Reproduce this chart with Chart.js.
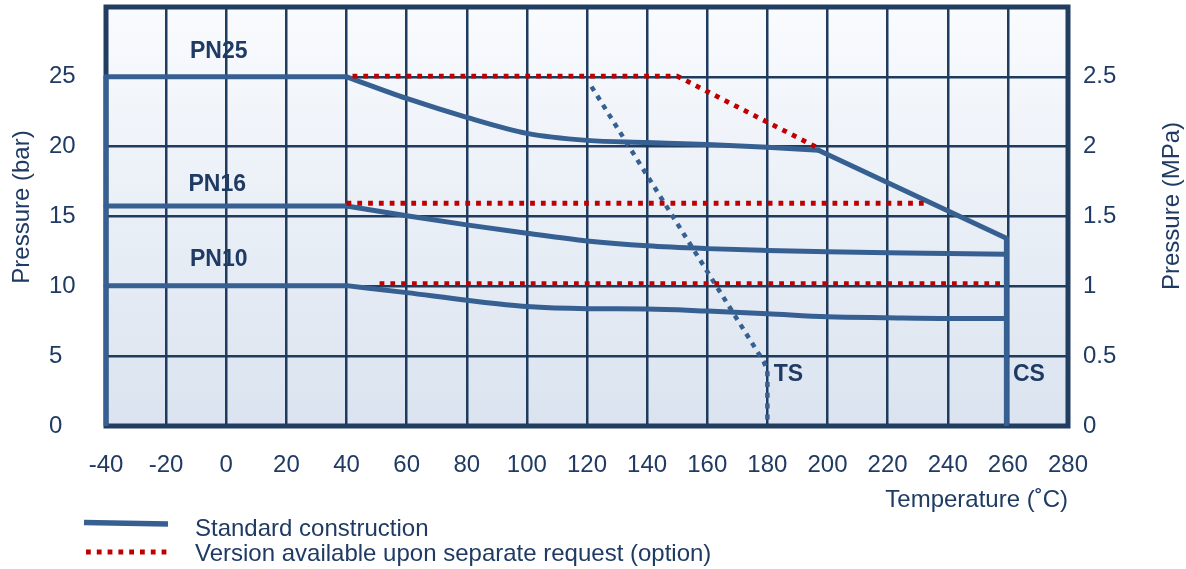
<!DOCTYPE html>
<html>
<head>
<meta charset="utf-8">
<script src="https://cdn.jsdelivr.net/npm/chart.js@4.4.1/dist/chart.umd.min.js"></script>
<style>
html,body{margin:0;padding:0;background:#ffffff;}
#wrap{width:1186px;height:569px;position:relative;}
canvas{display:block;}
</style>
</head>
<body>
<div id="wrap"><canvas id="c" width="1186" height="569"></canvas></div>
<script>
// ---- tick labels ----
const tempTicks = [-40,-20,0,20,40,60,80,100,120,140,160,180,200,220,240,260,280];
const barTicks  = [0,5,10,15,20,25];
const mpaTicks  = [0,0.5,1,1.5,2,2.5];

// ---- standard construction (pressure in bar vs temperature in °C) ----
const pn25Temp = [-40, 40, 60, 80, 100, 120, 140, 160, 180, 197, 259.5];
const pn25Bar  = [25, 25, 23.45, 22.1, 20.95, 20.45, 20.3, 20.15, 19.95, 19.75, 13.45];
const pn25Kinks = [1, 9];
const pn16Temp = [-40, 40, 60, 80, 100, 120, 140, 160, 180, 200, 220, 240, 259.5];
const pn16Bar  = [15.75, 15.75, 15.05, 14.4, 13.8, 13.25, 12.9, 12.7, 12.57, 12.47, 12.4, 12.35, 12.3];
const pn16Kinks = [1];
const pn10Temp = [-40, 40, 60, 80, 100, 120, 140, 160, 180, 200, 220, 240, 259.5];
const pn10Bar  = [10.05, 10.05, 9.55, 9.0, 8.55, 8.4, 8.38, 8.23, 8.04, 7.82, 7.75, 7.7, 7.7];
const pn10Kinks = [1];
const leftEdgeTemp = [-40, -40];
const leftEdgeBar  = [0, 25];
const csTemp = [259.5, 259.5];
const csBar  = [13.45, 0];

// ---- option (available upon separate request) ----
const pn25OptTemp = [42, 150, 196];
const pn25OptBar  = [25.05, 25.05, 20.0];
const pn16OptTemp = [40, 233];
const pn16OptBar  = [15.95, 15.95];
const pn10OptTemp = [51, 258];
const pn10OptBar  = [10.2, 10.2];

// ---- TS limit ----
const tsTemp = [121.5, 178.8, 180, 180];
const tsBar  = [24.3, 4.6, 4.0, 0.3];

// ---- text labels inside the plot (anchored in data units) ----
const noteText = ['PN25', 'PN16', 'PN10', 'TS', 'CS'];
const noteTemp = [-2.5, -3, -2.5, 187, 267];
const noteBar  = [26.8, 17.3, 11.9, 3.7, 3.7];

const legendLabels = ['Standard construction', 'Version available upon separate request (option)'];
const axisTitles = ['Temperature (˚C)', 'Pressure (bar)', 'Pressure (MPa)'];

const FONT = "'Liberation Sans', Arial, Helvetica, sans-serif";
const TXT = '#1f3b63';
const GRID = '#1f3b5e';
const FRAME = '#213d60';
const BLUE = '#376092';
const RED = '#c00000';
const FS = 24;

function pts(T, P) { return T.map((t, i) => ({x: t, y: P[i]})); }

function stdDatasets(label, T, P, kinks) {
  const cuts = [0, ...kinks, T.length - 1];
  const out = [];
  for (let k = 0; k < cuts.length - 1; k++) {
    const a = cuts[k], b = cuts[k + 1];
    out.push({
      label: label,
      data: pts(T.slice(a, b + 1), P.slice(a, b + 1)),
      borderColor: BLUE, borderWidth: 5,
      cubicInterpolationMode: (b - a > 1) ? 'monotone' : 'default',
      tension: 0, pointRadius: 0, borderCapStyle: 'round', borderJoinStyle: 'round',
      clip: 10, yAxisID: 'y'
    });
  }
  return out;
}
function straight(label, T, P, color, width, dash, cap) {
  return {
    label: label, data: pts(T, P), borderColor: color, borderWidth: width,
    borderDash: dash || [], tension: 0, pointRadius: 0,
    borderCapStyle: cap || 'butt', borderJoinStyle: 'miter', clip: 10, yAxisID: 'y'
  };
}

const datasets = [
  straight('Standard', leftEdgeTemp, leftEdgeBar, BLUE, 5, null, 'butt'),
  straight('Standard', csTemp, csBar, BLUE, 5, null, 'butt'),
  straight('Option PN25', pn25OptTemp, pn25OptBar, RED, 4.8, [4.8, 6]),
  straight('Option PN16', pn16OptTemp, pn16OptBar, RED, 4.8, [4.8, 6]),
  straight('Option PN10', pn10OptTemp, pn10OptBar, RED, 4.8, [4.8, 6]),
  ...stdDatasets('PN25', pn25Temp, pn25Bar, pn25Kinks),
  ...stdDatasets('PN16', pn16Temp, pn16Bar, pn16Kinks),
  ...stdDatasets('PN10', pn10Temp, pn10Bar, pn10Kinks),
  straight('TS', tsTemp, tsBar, BLUE, 4.5, [5, 5.8])
];

const decor = {
  id: 'decor',
  beforeDraw(chart) {
    const {ctx, chartArea: a} = chart;
    const g = ctx.createLinearGradient(0, a.top, 0, a.bottom);
    g.addColorStop(0, '#f9fbfe');
    g.addColorStop(1, '#dae3ef');
    ctx.save();
    ctx.fillStyle = g;
    ctx.fillRect(a.left, a.top, a.right - a.left, a.bottom - a.top);
    ctx.restore();
  },
  beforeDatasetsDraw(chart) {
    const {ctx, chartArea: a} = chart;
    ctx.save();
    ctx.strokeStyle = FRAME;
    ctx.lineWidth = 5;
    ctx.strokeRect(a.left, a.top, a.right - a.left, a.bottom - a.top);
    ctx.restore();
  },
  afterDatasetsDraw(chart) {
    const {ctx} = chart;
    const xs = chart.scales.x, ys = chart.scales.y;
    ctx.save();
    ctx.fillStyle = TXT;
    ctx.font = 'bold 23px ' + FONT;
    ctx.textAlign = 'center';
    ctx.textBaseline = 'middle';
    noteText.forEach((t, i) => {
      ctx.fillText(t, xs.getPixelForValue(noteTemp[i]), ys.getPixelForValue(noteBar[i]));
    });
    ctx.restore();
  },
  afterDraw(chart) {
    const {ctx} = chart;
    ctx.save();
    ctx.fillStyle = TXT;
    ctx.font = FS + 'px ' + FONT;
    ctx.textAlign = 'center';
    ctx.textBaseline = 'middle';
    // vertical axis titles
    ctx.save();
    ctx.translate(22, 207);
    ctx.rotate(-Math.PI / 2);
    ctx.fillText(axisTitles[1], 0, 0);
    ctx.restore();
    ctx.save();
    ctx.translate(1172, 206);
    ctx.rotate(-Math.PI / 2);
    ctx.fillText(axisTitles[2], 0, 0);
    ctx.restore();
    // legend
    ctx.strokeStyle = BLUE;
    ctx.lineWidth = 5.5;
    ctx.beginPath();
    ctx.moveTo(84, 522.5);
    ctx.lineTo(168, 524);
    ctx.stroke();
    ctx.strokeStyle = RED;
    ctx.lineWidth = 4.8;
    ctx.setLineDash([4.8, 6]);
    ctx.beginPath();
    ctx.moveTo(86, 552);
    ctx.lineTo(168, 552);
    ctx.stroke();
    ctx.setLineDash([]);
    ctx.textAlign = 'left';
    ctx.fillText(legendLabels[0], 195, 529);
    ctx.fillText(legendLabels[1], 195, 554);
    ctx.restore();
  }
};

const font = {family: FONT, size: FS};

new Chart(document.getElementById('c'), {
  type: 'line',
  data: {datasets: datasets},
  plugins: [decor],
  options: {
    responsive: false,
    animation: false,
    events: [],
    layout: {padding: {left: 49, right: 0, top: 7, bottom: 54}},
    plugins: {legend: {display: false}, tooltip: {enabled: false}},
    scales: {
      x: {
        type: 'linear', position: 'bottom', min: -40, max: 280,
        afterBuildTicks: s => { s.ticks = tempTicks.map(v => ({value: v})); },
        afterFit: s => { s.height = 89; s.paddingLeft = 0; s.paddingRight = 0; },
        grid: {color: GRID, lineWidth: 2.5, drawTicks: false},
        border: {display: false},
        ticks: {font: font, color: TXT, padding: 25, maxRotation: 0, autoSkip: false,
                callback: v => String(v)},
        title: {display: true, text: axisTitles[0], align: 'end', font: font, color: TXT,
                padding: {top: 0, bottom: 0}}
      },
      y: {
        type: 'linear', position: 'left', min: 0, max: 30,
        afterBuildTicks: s => { s.ticks = barTicks.map(v => ({value: v})); },
        afterFit: s => { s.width = 57; s.paddingTop = 0; s.paddingBottom = 0; },
        grid: {color: GRID, lineWidth: 2.5, drawTicks: false},
        border: {display: false},
        ticks: {font: font, color: TXT, padding: 28, crossAlign: 'far', callback: v => String(v)}
      },
      y1: {
        type: 'linear', position: 'right', min: 0, max: 3,
        afterBuildTicks: s => { s.ticks = mpaTicks.map(v => ({value: v})); },
        afterFit: s => { s.width = 118; s.paddingTop = 0; s.paddingBottom = 0; },
        grid: {display: false, drawTicks: false},
        border: {display: false},
        ticks: {font: font, color: TXT, padding: 15, callback: v => String(v)}
      }
    }
  }
});
</script>
</body>
</html>
